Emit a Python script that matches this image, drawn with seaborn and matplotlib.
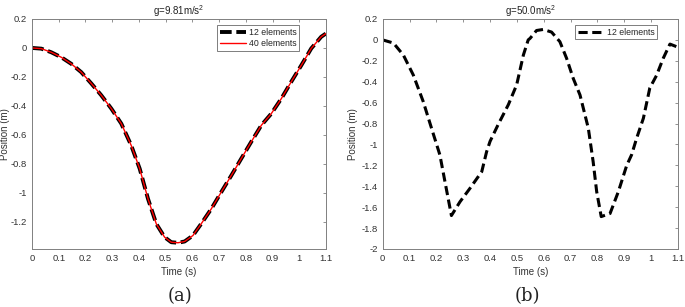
import numpy as np
import pandas as pd
import seaborn as sns
import matplotlib.pyplot as plt

# dati
# (a) g = 9.81 m/s^2
time_a = [0.0, 0.035, 0.072, 0.11, 0.147, 0.184, 0.222, 0.259, 0.297, 0.334,
          0.371, 0.403, 0.434, 0.465, 0.496, 0.521, 0.546, 0.571, 0.602, 0.633,
          0.671, 0.708, 0.746, 0.783, 0.82, 0.858, 0.895, 0.933, 0.97, 1.008,
          1.045, 1.082, 1.1]
pos_12_a = [0.0, -0.005, -0.03, -0.065, -0.11, -0.167, -0.246, -0.327, -0.42, -0.523,
            -0.673, -0.835, -1.043, -1.216, -1.308, -1.343, -1.347, -1.338, -1.297, -1.216,
            -1.112, -0.997, -0.881, -0.765, -0.65, -0.535, -0.455, -0.35, -0.234, -0.119,
            -0.003, 0.077, 0.1]
pos_40_a = [0.0, -0.005, -0.03, -0.065, -0.11, -0.167, -0.246, -0.327, -0.42, -0.523,
            -0.673, -0.835, -1.043, -1.216, -1.308, -1.343, -1.347, -1.338, -1.297, -1.216,
            -1.112, -0.997, -0.881, -0.765, -0.65, -0.535, -0.455, -0.35, -0.234, -0.119,
            -0.003, 0.077, 0.1]

# (b) g = 50.0 m/s^2
time_b = [0.0, 0.04, 0.077, 0.114, 0.151, 0.182, 0.213, 0.232, 0.256, 0.288,
          0.325, 0.369, 0.387, 0.40, 0.43, 0.468, 0.499, 0.524, 0.542, 0.549,
          0.573, 0.598, 0.629, 0.66, 0.685, 0.71, 0.735, 0.766, 0.784, 0.797,
          0.814, 0.847, 0.878, 0.909, 0.927, 0.946, 0.971, 0.995, 1.02, 1.045,
          1.07, 1.095, 1.1]
pos_12_b = [0.0, -0.03, -0.145, -0.336, -0.59, -0.846, -1.10, -1.357, -1.68, -1.548,
            -1.42, -1.26, -1.07, -0.97, -0.81, -0.62, -0.43, -0.145, 0.0, 0.015,
            0.09, 0.1, 0.075, -0.017, -0.176, -0.37, -0.527, -0.846, -1.166, -1.45,
            -1.69, -1.66, -1.45, -1.20, -1.10, -0.94, -0.75, -0.46, -0.34, -0.176,
            -0.04, -0.065, -0.09]

xticks = [0, 0.1, 0.2, 0.3, 0.4, 0.5, 0.6, 0.7, 0.8, 0.9, 1, 1.1]
xtick_labels = ['0', '0.1', '0.2', '0.3', '0.4', '0.5', '0.6', '0.7', '0.8', '0.9', '1', '1.1']
yticks_a = [0.2, 0, -0.2, -0.4, -0.6, -0.8, -1, -1.2]
ytick_labels_a = ['0.2', '0', '-0.2', '-0.4', '-0.6', '-0.8', '-1', '-1.2']
yticks_b = [0.2, 0, -0.2, -0.4, -0.6, -0.8, -1, -1.2, -1.4, -1.6, -1.8, -2]
ytick_labels_b = ['0.2', '0', '-0.2', '-0.4', '-0.6', '-0.8', '-1', '-1.2', '-1.4', '-1.6', '-1.8', '-2']

sns.set_style("white")
plt.rcParams['font.family'] = ['Liberation Sans', 'DejaVu Sans']
plt.rcParams['axes.unicode_minus'] = False
plt.rcParams['mathtext.fontset'] = 'custom'
plt.rcParams['mathtext.rm'] = 'Liberation Sans'

fig = plt.figure(figsize=(6.85, 3.07), dpi=100)
W, H = 685, 307
ax1 = fig.add_axes([32 / W, 58 / H, 294 / W, 230 / H])
ax2 = fig.add_axes([382.7 / W, 58 / H, 295.3 / W, 230 / H])

df_a = pd.DataFrame({'t': time_a, 'p12': pos_12_a, 'p40': pos_40_a})
df_b = pd.DataFrame({'t': time_b, 'p12': pos_12_b})

sns.lineplot(data=df_a, x='t', y='p12', ax=ax1, color='black', linewidth=2.8,
             linestyle=(0, (3, 1.2)), label='12 elements')
sns.lineplot(data=df_a, x='t', y='p40', ax=ax1, color='red', linewidth=1.0,
             label='40 elements')
sns.lineplot(data=df_b, x='t', y='p12', ax=ax2, color='black', linewidth=2.2,
             linestyle=(0, (3, 1.5)), label='12 elements')

gray = '#808080'
for ax, yt, ytl, ylim, title, ylab_x, leg_x in [
        (ax1, yticks_a, ytick_labels_a, (-1.39, 0.2), r'g=9.81m/s$^2$', -0.075, 0.909),
        (ax2, yticks_b, ytick_labels_b, (-2, 0.2), r'g=50.0m/s$^2$', -0.084, 0.93)]:
    ax.set_xlim(0, 1.1)
    ax.set_ylim(*ylim)
    ax.set_xticks(xticks)
    ax.set_xticklabels(xtick_labels)
    ax.set_yticks(yt)
    ax.set_yticklabels(ytl)
    ax.tick_params(direction='in', top=True, right=True, length=2.5, width=0.6,
                   color=gray, labelsize=6.8, labelcolor='#333333', pad=3.5)
    for s in ax.spines.values():
        s.set_color(gray)
        s.set_linewidth(0.7)
    ax.set_xlabel('Time (s)', fontsize=7, color='#333333', labelpad=3)
    ax.set_ylabel('Position (m)', fontsize=7, color='#333333')
    ax.yaxis.set_label_coords(ylab_x, 0.5)
    ax.set_title(title, fontsize=7, color='#222222', pad=3)
    leg = ax.legend(loc='upper right', bbox_to_anchor=(leg_x, 0.974), fontsize=6.3,
                    frameon=True, fancybox=False, handlelength=3.0, handletextpad=0.3,
                    borderpad=0.3, labelspacing=0.3, borderaxespad=0)
    leg.get_frame().set_edgecolor('#444444')
    leg.get_frame().set_linewidth(0.6)

fig.text(180 / W, 1 - 296 / H, '(a)', ha='center', va='center', fontsize=13,
         family='DejaVu Serif', color='#222222')
fig.text(527 / W, 1 - 296 / H, '(b)', ha='center', va='center', fontsize=13,
         family='DejaVu Serif', color='#222222')

fig.savefig('out.png', dpi=100)
